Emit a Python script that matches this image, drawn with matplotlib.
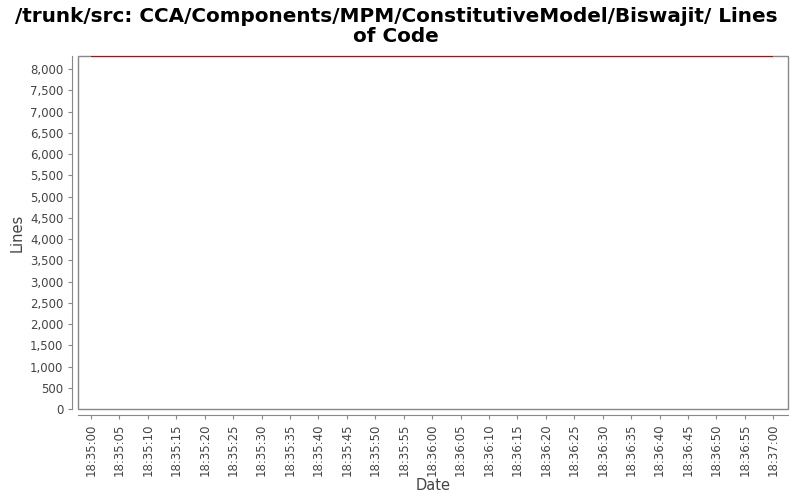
import datetime as dt
import matplotlib
matplotlib.use("Agg")
import matplotlib.pyplot as plt
import matplotlib.dates as mdates
from matplotlib.patches import Rectangle
from matplotlib.ticker import FuncFormatter, MultipleLocator

times = [dt.datetime(2010, 1, 1, 18, 35, 0), dt.datetime(2010, 1, 1, 18, 37, 0)]
lines = [8306, 8306]

fig = plt.figure(figsize=(8, 5), dpi=100)
ax = fig.add_axes([0.0975, 0.182, 0.8875, 0.706])

ax.plot(times, lines, color='#990000', linewidth=1.2, solid_capstyle='butt')

pad_l = dt.timedelta(seconds=2.3)
pad_r = dt.timedelta(seconds=2.6)
ax.set_xlim(times[0] - pad_l, times[-1] + pad_r)
ax.set_ylim(0, lines[0])

ax.xaxis.set_major_locator(mdates.SecondLocator(bysecond=range(0, 60, 5)))
ax.xaxis.set_major_formatter(mdates.DateFormatter('%H:%M:%S'))
ax.yaxis.set_major_locator(MultipleLocator(500))
ax.yaxis.set_major_formatter(FuncFormatter(lambda v, p: f'{int(v):,}'))

ax.tick_params(colors='#888888', labelcolor='#444444', labelsize=8.5, length=3, width=0.8)
ax.tick_params(axis='x', labelrotation=90)

# axis lines sit a few pixels away from the plot box
for s in ['top', 'right']:
    ax.spines[s].set_visible(False)
for s in ['left', 'bottom']:
    ax.spines[s].set_position(('outward', 4))
    ax.spines[s].set_color('#888888')
ax.add_patch(Rectangle((0, 0), 1, 1, transform=ax.transAxes, fill=False,
                       edgecolor='#888888', linewidth=1, clip_on=False, zorder=0))

ax.set_xlabel('Date', fontsize=10.5, color='#444444', labelpad=1)
ax.set_ylabel('Lines', fontsize=10.5, color='#444444')
fig.suptitle('/trunk/src: CCA/Components/MPM/ConstitutiveModel/Biswajit/ Lines\nof Code',
             fontsize=14.4, fontweight='bold', x=0.495, y=0.985, linespacing=1.05)

fig.savefig('out.png', dpi=100)
